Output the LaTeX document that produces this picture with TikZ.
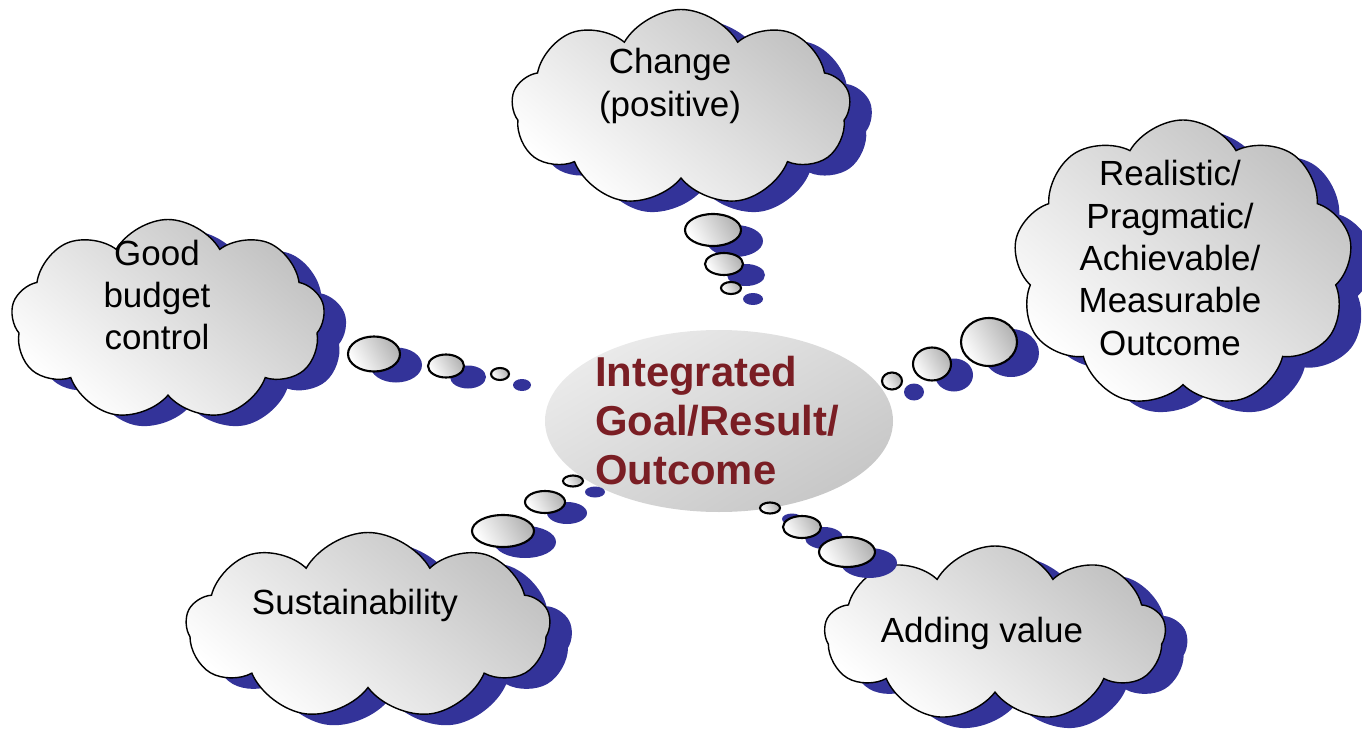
\documentclass[tikz,border=0pt]{standalone}
\usepackage{fontspec}
\setmainfont{Liberation Sans}
\usetikzlibrary{shapes.symbols,shapes.geometric,shadows}
\definecolor{shadowblue}{RGB}{51,51,153}
\definecolor{goalred}{RGB}{122,30,36}
\newcommand\pxu{0.02cm}

\begin{document}
\begin{tikzpicture}[
  x=0.02cm, y=-0.02cm,
  every node/.style={inner sep=0pt, outer sep=0pt},
  blueshadow/.style={drop shadow={shadow xshift=22*\pxu, shadow yshift=-11*\pxu,
      fill=shadowblue, opacity=1}},
  thought/.style={cloud, cloud puffs=9, cloud puff arc=120, cloud ignores aspect,
    draw=black, line width=0.8pt, top color=black!24, bottom color=white,
    shading angle=-40, blueshadow},
  bubble/.style={ellipse, draw=black, line width=1.2pt, top color=black!30,
    bottom color=white, shading angle=-60, blueshadow},
  goal/.style={ellipse, top color=black!8, bottom color=black!22, shading angle=30},
  txt/.style={font=\fontsize{19.9}{24.1}\selectfont, align=center},
  goaltxt/.style={font=\fontsize{23.8}{27.8}\selectfont\bfseries, text=goalred, align=left},
]
\useasboundingbox (0,0) rectangle (1362,733);

% centre
\node[goal, minimum width=348*\pxu, minimum height=182*\pxu] (goal) at (719,421) {};
\node[goaltxt] (goal-t) at (717,420.5) {Integrated\\Goal/Result/\\Outcome};

% clouds
\node[thought, minimum width=339*\pxu, minimum height=197*\pxu] (change) at (681,108) {};
\node[txt] (change-t) at (670,86) {Change\\(positive)};

\node[thought, minimum width=314*\pxu, minimum height=201*\pxu] (budget) at (168,320) {};
\node[txt] (budget-t) at (157,295) {Good\\budget\\control};

\node[thought, minimum width=364*\pxu, minimum height=187*\pxu] (sustain) at (368,626) {};
\node[txt] (sustain-t) at (355,605) {Sustainability};

\node[thought, minimum width=341*\pxu, minimum height=176*\pxu] (adding) at (995,634) {};
\node[txt] (adding-t) at (982,633) {Adding value};

% thought bubbles
\foreach \n/\x/\y/\w/\h in {
    chg1/713/230/56/32, chg2/724/264/38/22, chg3/731/288/20/12,
    bud1/374/354/52/35, bud2/446/366/36/23, bud3/500/374/18/12,
    sus1/503/531/62/32, sus2/545/502/40/22, sus3/573/481/20/11,
    add3/770/508/20/11, add2/802/527/38/22, add1/847/552/56/30,
    rea1/989/342/56/48, rea2/932/364/38/33, rea3/892/381/20/17}
  \node[bubble, minimum width=\w*\pxu, minimum height=\h*\pxu] (\n) at (\x,\y) {};

\node[thought, minimum width=339*\pxu, minimum height=288*\pxu] (real) at (1183,264) {};
\node[txt] (real-t) at (1170,258) {Realistic/\\Pragmatic/\\Achievable/\\Measurable\\Outcome};
\end{tikzpicture}
\end{document}
